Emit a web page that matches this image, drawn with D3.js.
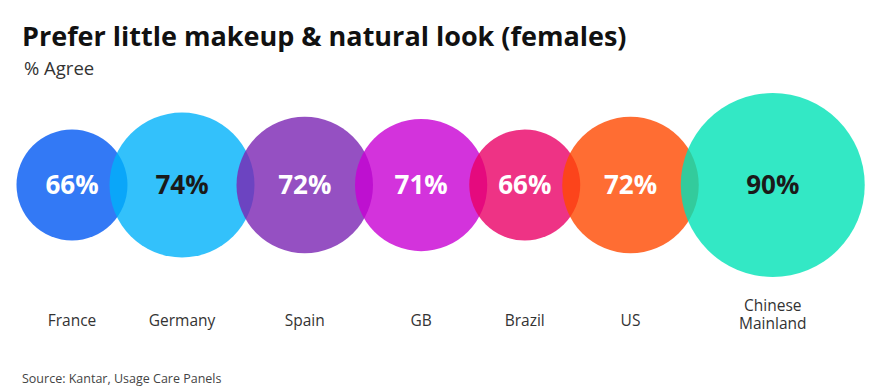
<!doctype html>
<html>
<head>
    <meta charset="utf-8">
    <title>Prefer little makeup & natural look (females)</title>
    <style type="text/css">
        body { margin: 0; background: #fff; }
        text { font-family: "Open Sans", Lato, sans-serif; }
        .title { font-size: 27px; font-weight: 700; fill: #111; }
        .subtitle { font-size: 18.5px; fill: #333; }
        .value { font-size: 26px; font-weight: 700; }
        .country { font-size: 15.5px; fill: #333; }
        .source { font-size: 12.5px; fill: #444; }
    </style>
</head>
<body>
<div id="chart"></div>

<script src="https://d3js.org/d3.v7.min.js"></script>
<script>
    // data
    var countries = ["France", "Germany", "Spain", "GB", "Brazil", "US", "Chinese Mainland"];
    var agree = [66, 74, 72, 71, 66, 72, 90];
    var colors = ["#0057f2", "#00b2fa", "#7a24b3", "#c800d3", "#ea0066", "#ff4800", "#00e2b7"];
    var darkText = ["Germany", "Chinese Mainland"];

    var width = 889, height = 389;
    var cy = 185, startX = 72, overlap = 18;

    // bubble radius (picture does not scale them purely by area)
    var r = d3.scaleLinear()
        .domain([66, 74, 90])
        .range([55.5, 72.5, 92]);

    // place bubbles side by side, each overlapping the previous one a bit
    var data = [];
    var x = startX;
    countries.forEach(function (c, i) {
        if (i > 0) x += r(agree[i - 1]) + r(agree[i]) - overlap;
        data.push({ country: c, value: agree[i], color: colors[i], x: x });
    });

    var svg = d3.select("#chart").append("svg")
        .attr("width", width)
        .attr("height", height);

    svg.append("text")
        .attr("class", "title")
        .attr("x", 22)
        .attr("y", 46)
        .text("Prefer little makeup & natural look (females)");

    svg.append("text")
        .attr("class", "subtitle")
        .attr("x", 24)
        .attr("y", 75)
        .text("% Agree");

    svg.selectAll(".bubble")
        .data(data)
        .enter().append("circle")
        .attr("class", "bubble")
        .attr("cx", function (d) { return d.x; })
        .attr("cy", cy)
        .attr("r", function (d) { return r(d.value); })
        .attr("fill", function (d) { return d.color; })
        .attr("fill-opacity", 0.8);

    svg.selectAll(".value")
        .data(data)
        .enter().append("text")
        .attr("class", "value")
        .attr("x", function (d) { return d.x; })
        .attr("y", cy + 9)
        .attr("text-anchor", "middle")
        .attr("fill", function (d) { return darkText.indexOf(d.country) >= 0 ? "#1a1a1a" : "#fff"; })
        .text(function (d) { return d.value + "%"; });

    var labels = svg.selectAll(".country")
        .data(data)
        .enter().append("text")
        .attr("class", "country")
        .attr("text-anchor", "middle")
        .attr("x", function (d) { return d.x; })
        .attr("y", function (d) { return d.country.indexOf(" ") > 0 ? 311 : 326; });

    labels.selectAll("tspan")
        .data(function (d) { return d.country.split(" ").map(function (w) { return { w: w, x: d.x }; }); })
        .enter().append("tspan")
        .attr("x", function (d) { return d.x; })
        .attr("dy", function (d, i) { return i ? 18 : 0; })
        .text(function (d) { return d.w; });

    svg.append("text")
        .attr("class", "source")
        .attr("x", 22)
        .attr("y", 383)
        .text("Source: Kantar, Usage Care Panels");
</script>
</body>
</html>
